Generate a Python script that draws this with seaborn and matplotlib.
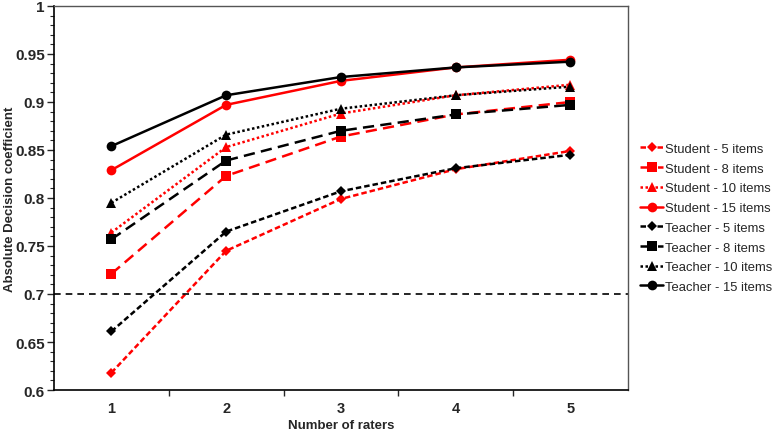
import pandas as pd
import seaborn as sns
from matplotlib import pyplot as plt
from matplotlib.lines import Line2D
from matplotlib.ticker import MultipleLocator, FixedLocator
import numpy as np

raters = [1, 2, 3, 4, 5]

student_5 = [0.618, 0.745, 0.799, 0.830, 0.849]
student_8 = [0.721, 0.823, 0.864, 0.887, 0.900]
student_10 = [0.764, 0.853, 0.888, 0.907, 0.918]
student_15 = [0.829, 0.897, 0.922, 0.936, 0.944]
teacher_5 = [0.661, 0.765, 0.807, 0.831, 0.845]
teacher_8 = [0.757, 0.839, 0.870, 0.887, 0.897]
teacher_10 = [0.795, 0.866, 0.893, 0.907, 0.916]
teacher_15 = [0.854, 0.907, 0.926, 0.936, 0.942]

series = [
    ("Student - 5 items", student_5),
    ("Student - 8 items", student_8),
    ("Student - 10 items", student_10),
    ("Student - 15 items", student_15),
    ("Teacher - 5 items", teacher_5),
    ("Teacher - 8 items", teacher_8),
    ("Teacher - 10 items", teacher_10),
    ("Teacher - 15 items", teacher_15),
]

threshold = 0.7

# style per item count
styles = {
    "5": dict(marker="D", ms=5, dashes=(2.2, 1.2)),
    "8": dict(marker="s", ms=7, dashes=(4.5, 2.5)),
    "10": dict(marker="^", ms=7, dashes=(1, 1)),
    "15": dict(marker="o", ms=7, dashes=None),
}

sns.set_style("ticks")
plt.rcParams['font.family'] = ['Liberation Sans', 'DejaVu Sans']

fig = plt.figure(figsize=(7.77, 4.31), dpi=100)
ax = fig.add_axes([0.0695, 0.0928, 0.7385, 0.891])

handles = []
for name, vals in series:
    color = "#ff0000" if name.startswith("Student") else "#000000"
    key = name.split(" - ")[1].split()[0]
    st = styles[key]
    df = pd.DataFrame({"raters": raters, "value": vals})
    sns.lineplot(data=df, x="raters", y="value", ax=ax, color=color, lw=1.8,
                 marker=st["marker"], markersize=st["ms"], markeredgewidth=0,
                 markerfacecolor=color)
    line = ax.lines[-1]
    if st["dashes"] is not None:
        line.set_dashes(st["dashes"])
    h = Line2D([0], [0], color=color, lw=1.8, marker=st["marker"],
               markersize=st["ms"], markeredgewidth=0)
    if st["dashes"] is not None:
        h.set_dashes(st["dashes"])
    handles.append((h, name))

ax.axhline(threshold, color="black", lw=1.2, dashes=(4, 3))

ax.set_xlim(0.5, 5.5)
ax.set_ylim(0.6, 1.0)
ax.set_xticks(raters)
ax.set_xticklabels([str(r) for r in raters], fontweight="bold", fontsize=10.5)
ax.tick_params(axis="x", which="major", length=0, pad=8)
ax.xaxis.set_minor_locator(FixedLocator([1.5, 2.5, 3.5, 4.5]))
ax.tick_params(axis="x", which="minor", length=4, width=1, direction="out")

yt = np.arange(0.6, 1.001, 0.05)
ax.set_yticks(yt)
ax.set_yticklabels([f"{v:g}" for v in np.round(yt, 2)], fontweight="bold", fontsize=11)
ax.yaxis.set_minor_locator(MultipleLocator(0.01))
ax.tick_params(axis="y", which="major", length=5, width=1, direction="out", pad=1.5)
ax.tick_params(axis="y", which="minor", length=3, width=0.8, direction="out")

for s in ["left", "bottom"]:
    ax.spines[s].set_color("black")
    ax.spines[s].set_linewidth(1.2)
for s in ["top", "right"]:
    ax.spines[s].set_visible(True)
    ax.spines[s].set_color("#555555")
    ax.spines[s].set_linewidth(1.0)

ax.set_xlabel("Number of raters", fontweight="bold", fontsize=9.5, labelpad=3)
ax.set_ylabel("Absolute Decision coefficient", fontweight="bold", fontsize=9.5)
ax.yaxis.set_label_coords(-0.066, 0.5)

ax.legend([h for h, n in handles], [n for h, n in handles], loc="center left",
          bbox_to_anchor=(1.021, 0.448), frameon=False, fontsize=9.4,
          handlelength=1.8, handletextpad=0.15, labelspacing=0.58, borderaxespad=0,
          borderpad=0)

fig.savefig("out.png", dpi=100)
